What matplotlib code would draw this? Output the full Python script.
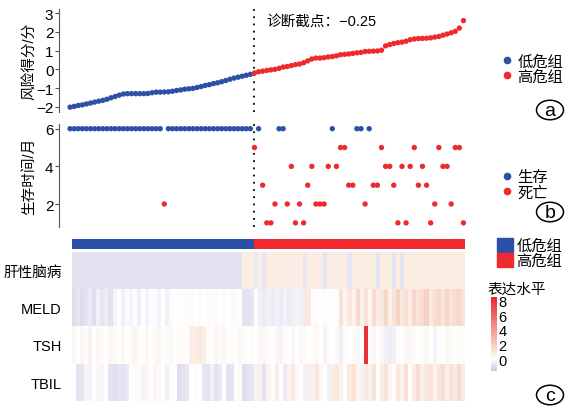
import numpy as np
import matplotlib
matplotlib.use('Agg')
import matplotlib.pyplot as plt
from matplotlib.colors import LinearSegmentedColormap
from matplotlib.lines import Line2D
from matplotlib.patches import Patch, Circle

plt.rcParams['font.family'] = ['Liberation Sans', 'Noto Sans CJK SC']
plt.rcParams['axes.unicode_minus'] = True

BLUE = '#2c50a5'
RED = '#ee2a2e'

# risk score per patient, sorted
low_scores = [-2.02, -1.98, -1.93, -1.9, -1.85, -1.8, -1.75, -1.7, -1.66, -1.6,
              -1.52, -1.45, -1.38, -1.32, -1.3, -1.3, -1.3, -1.3, -1.3, -1.29,
              -1.25, -1.22, -1.22, -1.21, -1.2, -1.17, -1.13, -1.1, -1.06, -1.04,
              -1.02, -0.97, -0.92, -0.86, -0.82, -0.76, -0.72, -0.66, -0.6, -0.53,
              -0.47, -0.42, -0.37, -0.32, -0.27]
high_scores = [-0.2, -0.13, -0.1, -0.06, -0.03, 0.0, 0.05, 0.12, 0.15, 0.2,
               0.25, 0.28, 0.35, 0.45, 0.55, 0.6, 0.6, 0.62, 0.66, 0.68,
               0.72, 0.78, 0.8, 0.82, 0.85, 0.88, 0.9, 0.95, 0.96, 0.97,
               0.98, 1.02, 1.25, 1.32, 1.38, 1.42, 1.45, 1.5, 1.58, 1.62,
               1.64, 1.65, 1.66, 1.68, 1.72, 1.75, 1.82, 1.88, 1.95, 2.03,
               2.2, 2.6]
cutoff = -0.25

# survival time (months) and status (1 = dead)
low_time = [6] * 23 + [2] + [6] * 21
low_status = [0] * 23 + [1] + [0] * 21
high_time = [5, 6, 3, 1, 1, 2, 6, 6, 2, 4, 1, 2, 1, 3, 4, 2, 2, 2, 4, 6,
             4, 5, 5, 3, 3, 6, 6, 2, 6, 3, 3, 5, 4, 4, 3, 1, 4, 1, 4, 5,
             3, 4, 3, 1, 2, 5, 4, 4, 2, 5, 5, 1]
high_status = [0 if t == 6 else 1 for t in high_time]

# heatmap rows (scaled expression)
row_names = ['肝性脑病', 'MELD', 'TSH', 'TBIL']
hepatic = ([-0.8] * 42 + [0.8, 0.8, 0.8] + [-0.6, 0.8, -0.7] + [0.8] * 9 + [-0.7]
           + [0.8] * 4 + [-0.7] + [0.8] * 5 + [-0.7] + [0.8] * 6 + [-0.7]
           + [0.8] * 3 + [-0.7, 0.8, -0.7] + [0.8] * 15)
meld = [-0.9, -0.7, -1.0, -0.8, -0.6, -0.9, -0.4, -0.7, -0.5, -0.8,
        -0.3, 0.0, -0.4, -0.1, -0.3, 0.1, -0.4, 0.0, -0.3, -0.1,
        0.1, -0.3, 0.0, -0.4, -0.1, 0.0, 0.1, 0.0, -0.1, 0.2,
        0.0, 0.1, 0.0, -0.1, 0.1, 0.2, 0.0, 0.1, 0.0, 0.2,
        0.1, 0.0, -0.8, -0.8, -0.7, 0.1, -0.4, -0.5, -0.4, -0.5,
        -0.4, -0.5, -0.3, -0.5, -0.4, -0.3, -0.4, 1.0, 0.9, 0.0,
        0.1, 0.0, 0.1, 0.0, 0.1, 0.0, 1.2, 0.3, 1.0, 0.5,
        1.5, 0.6, 1.2, 0.4, 1.4, 0.8, 1.0, 1.6, 0.6, 1.2,
        1.8, 1.0, 1.3, 0.7, 1.6, 1.1, 1.4, 1.9, 0.9, 1.3,
        1.5, 1.1, 1.7, 1.2, 1.4, 1.6, 1.2]
tsh = [0.4, 0.0, 0.3, 0.1, 0.5, 0.0, 0.3, 0.1, 0.0, 0.4,
       0.2, 0.0, 0.3, 0.0, 0.2, 0.5, 0.1, 0.0, 0.3, 0.0,
       0.2, 0.4, 0.0, 0.1, 0.3, 0.0, 0.2, 0.1, 0.0, 0.8,
       0.8, 0.9, 0.7, 0.1, 0.0, 0.4, 0.1, 0.3, 0.0, 0.2,
       0.0, 0.3, 0.1, 0.0, 0.2, 0.0, 0.3, -0.2, 0.2, 0.0,
       0.4, -0.3, 0.1, 0.0, 0.3, 0.0, -0.2, 0.2, 0.0, 0.1,
       0.3, 0.0, -0.3, 0.1, 0.0, 0.3, -0.4, 0.1, 0.0, 0.2,
       -0.2, 0.0, 8.0, 0.2, -0.2, 0.0, 0.3, -0.4, -0.5, -0.4,
       0.1, 0.0, 0.3, -0.2, 0.2, 0.0, 0.1, 0.3, 0.0, -0.3,
       0.2, 0.0, 0.3, 0.1, 0.0, 0.2, 0.1]
tbil = [0.0, -0.8, -0.7, 0.5, -0.3, 0.0, 0.3, -0.2, 0.0, -0.8,
        -0.9, -0.7, -0.8, -0.6, 0.0, 0.2, 0.0, -0.3, 0.4, 0.0,
        -0.2, 0.2, 0.0, -0.4, 0.1, 0.0, -0.9, -0.8, -0.7, 0.0,
        0.2, 0.0, -0.7, -0.8, -0.4, -0.8, -0.6, 0.0, -0.8, -0.7,
        0.0, 0.2, -0.9, -0.8, -0.7, -0.3, 0.6, -0.8, 0.5, 0.0,
        0.8, 0.0, -0.6, 0.5, 0.9, 0.3, 0.0, 0.7, -0.4, 0.6,
        1.0, 0.3, 0.0, -0.4, 0.8, 1.0, 0.5, 0.0, 0.9, 1.2,
        0.4, -0.3, 0.9, 0.6, 1.1, 0.0, 0.7, 1.2, 0.3, 0.0,
        1.0, 0.5, 1.3, 0.0, 0.8, 1.4, 0.6, 1.0, 1.2, 0.5,
        1.1, 1.3, 0.7, 1.2, 0.9, 1.4, 0.8]

scores = np.array(low_scores + high_scores)
times = np.array(low_time + high_time)
status = np.array(low_status + high_status)
group = np.array([0] * len(low_scores) + [1] * len(high_scores))
idx = np.arange(len(scores))
cut_x = len(low_scores) - 0.05

W, H = 574, 414
fig = plt.figure(figsize=(W / 100, H / 100), dpi=100)


def box(x0, y0, x1, y1):
    # pixel box (top-left origin) -> figure fraction
    return [x0 / W, 1 - y1 / H, (x1 - x0) / W, (y1 - y0) / H]


xl = (-2.7, 97.6)

# (a) risk score
ax1 = fig.add_axes(box(59, 10, 470, 113))
ax1.scatter(idx, scores, c=np.where(group == 0, BLUE, RED), s=15, linewidths=0, zorder=3)
ax1.axvline(cut_x, color='black', linestyle=(0, (1, 3)), linewidth=1.3)
ax1.set_xlim(xl)
ax1.set_ylim(-2.28, 3.22)
ax1.set_yticks([-2, -1, 0, 1, 2, 3])
ax1.set_ylabel('风险得分/分', fontsize=10.5)
ax1.text(48, 2.62, '诊断截点：\u22120.25', fontsize=10.5, va='center')

# (b) survival time
ax2 = fig.add_axes(box(59, 125, 470, 228))
ax2.scatter(idx, times, c=np.where(status == 0, BLUE, RED), s=15, linewidths=0, zorder=3)
ax2.axvline(cut_x, color='black', linestyle=(0, (1, 3)), linewidth=1.3)
ax2.set_xlim(xl)
ax2.set_ylim(0.78, 6.25)
ax2.set_yticks([2, 4, 6])
ax2.set_ylabel('生存时间/月', fontsize=10.5)

for ax in (ax1, ax2):
    for s in ('top', 'right', 'bottom'):
        ax.spines[s].set_visible(False)
    ax.spines['left'].set_color('#555555')
    ax.set_xticks([])
    ax.tick_params(axis='y', labelsize=11, length=3, pad=1, color='#555555')
    ax.yaxis.set_label_coords(-0.055, 0.5)

# (c) heatmap
ax_bar = fig.add_axes(box(71.7, 240, 464.3, 249.5))
ax_bar.imshow(group[None, :], aspect='auto', interpolation='nearest',
              cmap=LinearSegmentedColormap.from_list('grp', [BLUE, RED], N=2))
ax_bar.axis('off')

cmap = LinearSegmentedColormap.from_list(
    'expr', [(0.0, '#c9c7e3'), (1.6 / 10.1, '#ffffff'), (3.0 / 10.1, '#f8ddd0'),
             (1.0, '#e8262b')])
data = np.array([hepatic, meld, tsh, tbil])
ax_hm = fig.add_axes(box(71.7, 252.7, 464.3, 401.7))
im = ax_hm.imshow(data, aspect='auto', interpolation='nearest', cmap=cmap,
                  vmin=-1.6, vmax=8.5)
ax_hm.set_xticks([])
ax_hm.set_yticks(range(len(row_names)))
ax_hm.set_yticklabels(row_names, fontsize=10.5)
ax_hm.tick_params(axis='y', length=0, pad=7)
for s in ax_hm.spines.values():
    s.set_visible(False)

cax = fig.add_axes(box(491, 298, 497, 372))
cb = fig.colorbar(im, cax=cax, ticks=[0, 2, 4, 6, 8])
cb.outline.set_visible(False)
cb.ax.tick_params(length=0, pad=1, labelsize=10.5)
fig.text(487 / W, 1 - 290 / H, '表达水平', fontsize=10.5, va='center')

# legends
h_risk = [Line2D([], [], marker='o', ls='', color=BLUE, markersize=4.5),
          Line2D([], [], marker='o', ls='', color=RED, markersize=4.5)]
fig.legend(h_risk, ['低危组', '高危组'], loc='center left', frameon=False,
           bbox_to_anchor=(490 / W, 1 - 70 / H), fontsize=11,
           handletextpad=0.1, labelspacing=0.05, handlelength=1.2, borderpad=0)
fig.legend(h_risk, ['生存', '死亡'], loc='center left', frameon=False,
           bbox_to_anchor=(490 / W, 1 - 186 / H), fontsize=11,
           handletextpad=0.1, labelspacing=0.05, handlelength=1.2, borderpad=0)
h_grp = [Patch(color=BLUE), Patch(color=RED)]
fig.legend(h_grp, ['低危组', '高危组'], loc='center left', frameon=False,
           bbox_to_anchor=(489 / W, 1 - 254 / H), fontsize=11,
           handletextpad=0.2, labelspacing=0.0, handlelength=1.1,
           handleheight=1.0, borderpad=0)

# circled panel letters
for lab, cy in (('a', 111), ('b', 213), ('c', 396)):
    fig.patches.append(Circle((550 / W, 1 - cy / H), 13.5 / W, transform=fig.transFigure,
                              fill=False, lw=1.1, ec='black'))
    fig.text(550 / W, 1 - (cy + 1) / H, lab, fontsize=14, ha='center', va='center')

fig.savefig('out.png', dpi=100)
